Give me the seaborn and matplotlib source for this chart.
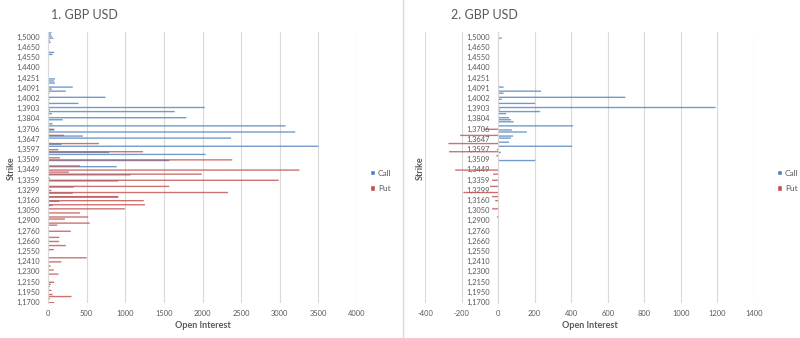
import numpy as np
import pandas as pd
import matplotlib
matplotlib.use("Agg")
import matplotlib.pyplot as plt
from matplotlib.patches import Patch
from matplotlib.lines import Line2D
import seaborn as sns

# ---------------- data (index 0 = bottom strike) ----------------
strikes = [
    "1,1700", "1,1750", "1,1800", "1,1850", "1,1900",
    "1,1950", "1,2000", "1,2050", "1,2100", "1,2125",
    "1,2150", "1,2175", "1,2200", "1,2250", "1,2275",
    "1,2300", "1,2325", "1,2350", "1,2375", "1,2400",
    "1,2410", "1,2450", "1,2475", "1,2500", "1,2525",
    "1,2550", "1,2575", "1,2600", "1,2625", "1,2650",
    "1,2660", "1,2675", "1,2700", "1,2725", "1,2750",
    "1,2760", "1,2800", "1,2825", "1,2850", "1,2875",
    "1,2900", "1,2925", "1,2950", "1,3000", "1,3025",
    "1,3050", "1,3075", "1,3100", "1,3125", "1,3150",
    "1,3160", "1,3200", "1,3225", "1,3250", "1,3275",
    "1,3299", "1,3310", "1,3325", "1,3340", "1,3350",
    "1,3359", "1,3375", "1,3400", "1,3425", "1,3437",
    "1,3449", "1,3460", "1,3475", "1,3487", "1,3500",
    "1,3509", "1,3525", "1,3550", "1,3563", "1,3575",
    "1,3597", "1,3600", "1,3613", "1,3625", "1,3637",
    "1,3647", "1,3650", "1,3663", "1,3675", "1,3690",
    "1,3706", "1,3725", "1,3750", "1,3775", "1,3790",
    "1,3804", "1,3825", "1,3850", "1,3875", "1,3890",
    "1,3903", "1,3925", "1,3950", "1,3975", "1,3990",
    "1,4002", "1,4025", "1,4050", "1,4070", "1,4080",
    "1,4091", "1,4125", "1,4150", "1,4200", "1,4225",
    "1,4251", "1,4275", "1,4300", "1,4350", "1,4375",
    "1,4400", "1,4425", "1,4450", "1,4500", "1,4525",
    "1,4550", "1,4575", "1,4600", "1,4625", "1,4640",
    "1,4650", "1,4700", "1,4750", "1,4800", "1,4900",
    "1,5000", "1,5250", "1,5500",
]

# Panel 1: open interest
call_oi = [
    0, 0, 0, 0, 0, 0, 0, 0, 0, 0,
    0, 0, 0, 0, 0, 0, 0, 0, 0, 0,
    0, 0, 0, 0, 0, 0, 0, 0, 0, 0,
    0, 0, 0, 0, 0, 0, 0, 0, 0, 0,
    0, 0, 0, 0, 0, 0, 0, 60, 0, 145,
    0, 910, 0, 320, 0, 0, 335, 0, 0, 910,
    0, 0, 1070, 0, 0, 0, 890, 0, 0, 1570,
    0, 0, 2040, 790, 0, 0, 3500, 175, 0, 0,
    2370, 450, 0, 3200, 80, 0, 3075, 60, 0, 190,
    1790, 0, 50, 1640, 25, 2030, 0, 395, 0, 20,
    745, 0, 20, 230, 50, 320, 0, 90, 80, 90,
    5, 10, 0, 0, 0, 5, 10, 8, 0, 10,
    0, 60, 80, 0, 0, 0, 10, 35, 25, 70,
    50, 40, 50,
]
put_oi = [
    80, 10, 25, 305, 60, 0, 45, 0, 25, 35,
    80, 0, 10, 0, 135, 0, 75, 0, 35, 0,
    175, 0, 500, 0, 10, 0, 75, 0, 230, 0,
    145, 0, 145, 0, 0, 295, 0, 0, 120, 540,
    0, 220, 520, 0, 415, 0, 995, 0, 1255, 0,
    1240, 0, 910, 0, 2330, 45, 0, 1570, 0, 0,
    2985, 25, 0, 1990, 270, 3255, 0, 415, 0, 0,
    2385, 155, 0, 0, 1230, 135, 0, 0, 660, 0,
    0, 0, 205, 0, 0, 80, 0, 0, 0, 0,
    0, 0, 0, 0, 0, 0, 0, 0, 0, 0,
    0, 0, 0, 0, 0, 0, 0, 0, 0, 0,
    0, 0, 0, 0, 0, 0, 0, 0, 0, 0,
    0, 0, 0, 0, 0, 0, 0, 0, 0, 0,
    0, 0, 0,
]

# Panel 2: change in open interest
call_chg = [
    0, 0, 0, 0, 0, 0, 0, 0, 0, 0,
    0, 0, 0, 0, 0, 0, 0, 0, 0, 0,
    0, 0, 0, 0, 0, 0, 0, 0, 0, 0,
    0, 0, 0, 0, 0, 0, 0, 0, 0, 0,
    0, 0, 0, 0, 0, 0, 0, 0, 0, 0,
    0, 0, 0, 0, 0, 0, 0, 0, 0, 0,
    0, 0, 0, 0, 0, 0, 0, 0, 0, 203,
    0, 0, 0, 15, 0, 0, 405, 0, 60, 0,
    70, 82, 0, 157, 75, 0, 410, 0, 85, 70,
    60, 0, 45, 230, 10, 1190, 0, 203, 0, 20,
    696, 0, 30, 235, 0, 30, 0, 5, 5, 0,
    0, 0, 3, 0, 0, 0, 0, 3, 0, 0,
    0, 0, 0, 0, 0, 0, 0, 0, 0, 20,
    0, 0, 0,
]
put_chg = [
    0, 0, 0, 0, 0, 0, 0, 0, 0, 0,
    0, 0, 0, 0, 0, 0, 0, 0, 0, 0,
    0, 0, 0, 0, 0, 0, 0, 0, 0, 0,
    0, 0, 0, 0, 0, 0, 0, 0, 0, 0,
    0, 0, -7, 0, 0, 0, -33, 0, 0, 0,
    -16, 0, -33, 0, -190, 0, 0, -45, 0, 0,
    -33, 0, 0, -27, 0, -235, 0, 0, 0, 0,
    0, 0, -10, 0, -268, -7, 0, 0, -272, 0,
    0, 0, -208, 0, 0, -80, 0, 0, 0, 0,
    0, 0, 0, 0, 0, 0, 0, 0, 0, 0,
    0, 0, 0, 0, 0, 0, 0, 0, 0, 0,
    0, 0, 0, 0, 0, 0, 0, 0, 0, 0,
    0, 0, 0, 0, 0, 0, 0, 0, 0, 0,
    0, 0, 0,
]

series_names = ["Call", "Put"]
titles = ["1. GBP USD", "2. GBP USD"]
x_ticks_1 = [0, 500, 1000, 1500, 2000, 2500, 3000, 3500, 4000]
x_ticks_2 = [-400, -200, 0, 200, 400, 600, 800, 1000, 1200, 1400]

# ---------------- styling ----------------
sns.set_style("white")
plt.rcParams["font.family"] = ["Lato", "DejaVu Sans"]
CALL = "#4F81BD"
PUT = "#C0504D"
TXT = "#595959"
GRID = "#D9D9D9"
W, H = 800, 338

fig = plt.figure(figsize=(8, 3.38), dpi=100)

order = strikes[::-1]  # top of chart first


def make_df(c, p):
    return pd.DataFrame({
        "Strike": strikes * 2,
        "Value": list(c) + list(p),
        "Type": ["Call"] * len(strikes) + ["Put"] * len(strikes),
    })


def panel(rect, df, xticks, xlim, zero_spine, leg_off):
    ax = fig.add_axes(rect)
    sns.barplot(data=df, y="Strike", x="Value", hue="Type", order=order,
                hue_order=series_names, palette=[CALL, PUT], orient="h",
                dodge=True, width=1.35, errorbar=None, saturation=1,
                linewidth=0, legend=False, ax=ax)
    for cont, col in zip(ax.containers, [CALL, PUT]):
        for p in cont:
            p.set_facecolor(col)
            p.set_alpha(0.8)
            p.set_edgecolor("none")
            p.set_linewidth(0)
            p.set_snap(False)
            p.set_antialiased(True)
    ax.set_xlim(*xlim)
    ax.set_ylim(len(order) - 0.5, -0.5)
    ax.set_xticks(xticks)
    ax.set_xticklabels([str(t) for t in xticks])
    n = len(strikes)
    label_idx = list(range(0, n, 5))
    ax.set_yticks([n - 1 - i for i in label_idx])
    ax.set_yticklabels([strikes[i] for i in label_idx])
    ax.tick_params(axis="both", length=0, labelsize=5.4, colors=TXT)
    ax.tick_params(axis="x", pad=5)
    ax.tick_params(axis="y", pad=6)
    ax.grid(axis="x", color=GRID, linewidth=0.8)
    ax.set_axisbelow(True)
    for s in ["top", "right", "bottom"]:
        ax.spines[s].set_visible(False)
    ax.spines["left"].set_color(GRID)
    ax.spines["left"].set_linewidth(0.8)
    if zero_spine:
        ax.spines["left"].set_position(("data", 0))
    ax.set_xlabel("")
    ax.set_ylabel("")
    for lbl in ax.get_yticklabels() + ax.get_xticklabels():
        lbl.set_color(TXT)
    handles = [Patch(facecolor=CALL, label="Call"), Patch(facecolor=PUT, label="Put")]
    leg = ax.legend(handles=handles, loc="center left", frameon=False,
                    bbox_to_anchor=(1.0 + leg_off / (rect[2] * W), 0.45),
                    fontsize=6, handlelength=0.6, handleheight=0.6,
                    handletextpad=0.3, labelspacing=1.0, borderaxespad=0)
    for t in leg.get_texts():
        t.set_color(TXT)
    return ax


bottom = 1 - 303 / H
height = (303 - 31.7) / H

ax1 = panel([48 / W, bottom, (357 - 48) / W, height],
            make_df(call_oi, put_oi), x_ticks_1, (0, 4000), False, 10)
ax2 = panel([425 / W, bottom, (754 - 425) / W, height],
            make_df(call_chg, put_chg), x_ticks_2, (-400, 1400), True, 20)

# titles and axis labels
fig.text(51 / W, 1 - 15 / H, titles[0], fontsize=9, color=TXT, va="center", ha="left")
fig.text(451 / W, 1 - 15 / H, titles[1], fontsize=9, color=TXT, va="center", ha="left")
fig.text(202.5 / W, 1 - 326 / H, "Open Interest", fontsize=6.5, weight="bold",
         color=TXT, ha="center", va="center")
fig.text(589.5 / W, 1 - 325 / H, "Open Interest", fontsize=6.5, weight="bold",
         color=TXT, ha="center", va="center")
fig.text(11 / W, 1 - 168 / H, "Strike", fontsize=6.5, weight="bold", color=TXT,
         rotation=90, ha="center", va="center")
fig.text(420 / W, 1 - 168 / H, "Strike", fontsize=6.5, weight="bold", color=TXT,
         rotation=90, ha="center", va="center")

# separator between the two charts
fig.add_artist(Line2D([403 / W, 403 / W], [0, 1], color=GRID, linewidth=1.0,
                      transform=fig.transFigure))

fig.savefig("out.png", dpi=100)
